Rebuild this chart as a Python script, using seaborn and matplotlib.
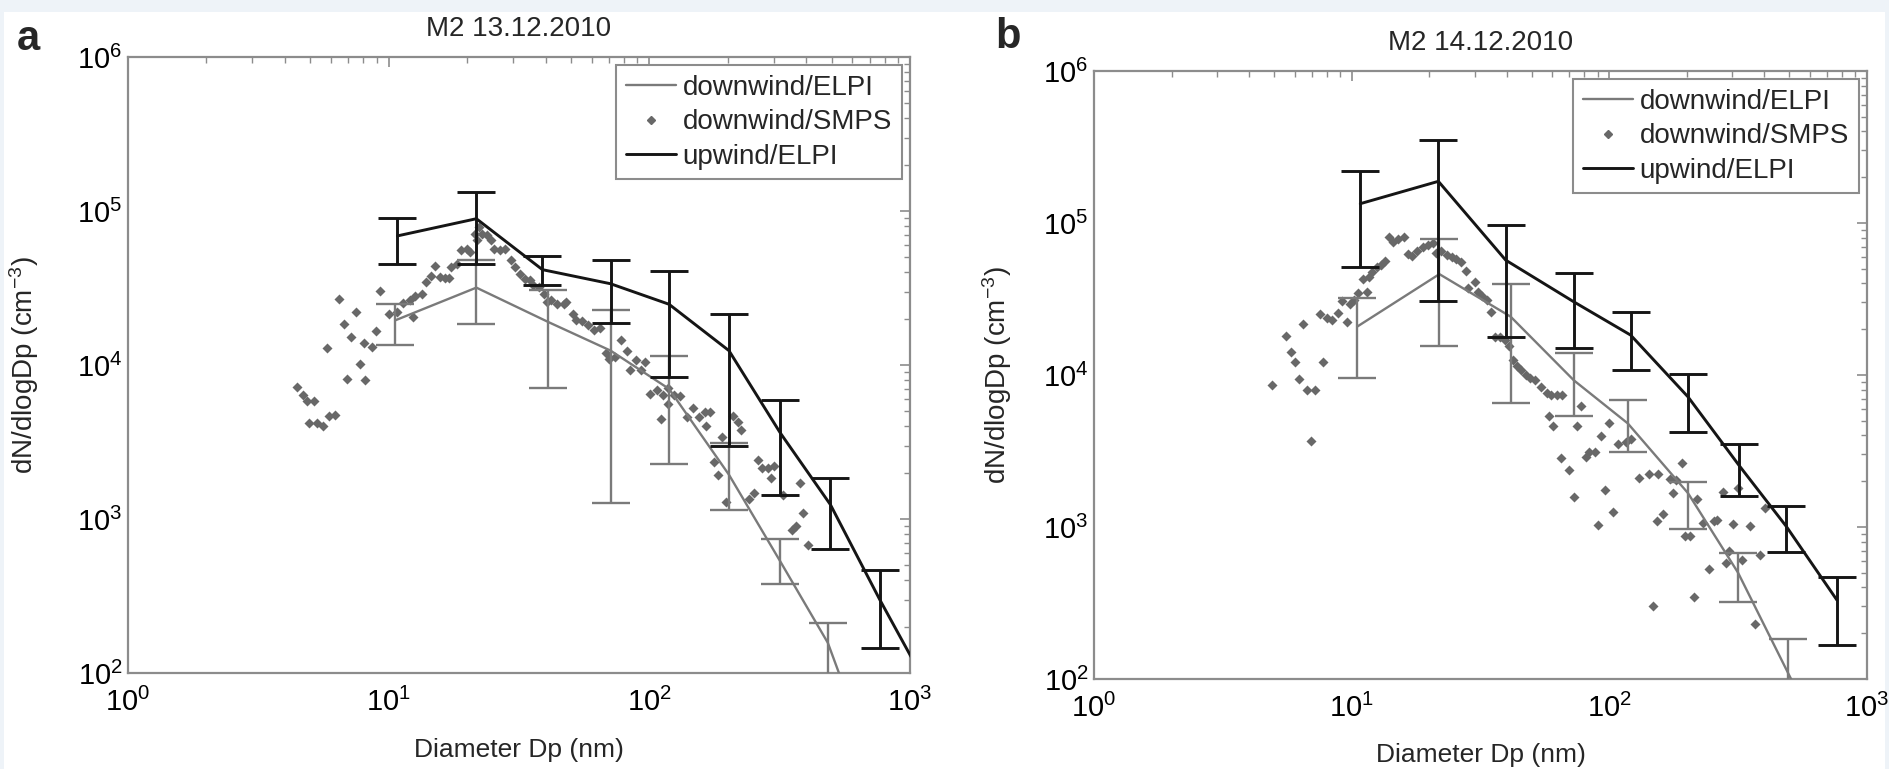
import numpy as np
import pandas as pd
import matplotlib
matplotlib.use("Agg")
import matplotlib.pyplot as plt
import seaborn as sns
from matplotlib.lines import Line2D
from matplotlib.patches import Rectangle
from matplotlib.ticker import LogLocator, NullFormatter

# ---------------- data ----------------
titles = ["M2 13.12.2010", "M2 14.12.2010"]
panel_labels = ["a", "b"]
legend_labels = ["downwind/ELPI", "downwind/SMPS", "upwind/ELPI"]
x_ticks = [1, 10, 100, 1000]
x_tick_labels = ["$10^{0}$", "$10^{1}$", "$10^{2}$", "$10^{3}$"]
y_ticks = [1e2, 1e3, 1e4, 1e5, 1e6]
y_tick_labels = ["$10^{2}$", "$10^{3}$", "$10^{4}$", "$10^{5}$", "$10^{6}$"]

# Panel a
up_a_dp = [10.8, 21.7, 38.9, 71, 119, 202, 318, 495, 766, 1220]
up_a_n = [68900, 89100, 41600, 33700, 24800, 12400, 3620, 1240, 299, 71]
up_a_hi = [90600, 132800, 50800, 47800, 40800, 21300, 5900, 1850, 464, None]
up_a_lo = [45500, 45500, 32900, 18700, 8360, 2960, 1440, 638, 145, None]

dn_a_dp = [10.6, 21.7, 41, 71, 119, 202, 318, 484, 766]
dn_a_n = [19500, 31800, 19000, 12400, 7000, 1940, 530, 157, 19]
dn_a_hi = [24800, 48000, 30500, 22600, 11400, 3100, 742, 211, None]
dn_a_lo = [13400, 18500, 7130, 1270, 2280, 1150, 380, 50, None]

smps_a_dp = [5.82, 6.47, 6.72, 7.20, 7.47, 7.76, 8.09, 6.94, 8.01, 8.63, 8.91, 9.25,
             10.0, 10.8, 11.4, 12.1, 12.4, 12.6, 13.4, 13.9, 14.5, 15.1, 15.7, 16.4,
             17.1, 17.3, 18.3, 19.0, 20.0, 20.5, 21.4, 21.9, 22.2, 22.8, 23.8, 24.7,
             25.4, 26.8, 28.0, 29.5, 30.6, 31.8, 33.2, 35.0, 35.9, 37.9, 39.5, 40.6,
             42.1, 44.4, 46.9, 48.1, 50.8, 52.1, 55.0, 58.0, 61.1, 64.5, 68.0, 69.8,
             73.6, 77.7, 82.0, 84.2, 88.8, 92.6, 96.1, 101, 107, 113,
             4.46, 4.68, 4.88, 5.15, 4.96, 5.29, 5.61, 5.88, 6.21,
             111, 118, 118, 124, 131, 140, 147, 155, 164, 171, 165, 190, 177, 184,
             197, 210, 219, 225, 241, 251, 261, 271, 286, 302, 294, 327, 354, 364,
             377, 390, 405]
smps_a_n = [12900, 27000, 18400, 15200, 22100, 10200, 7940, 8150, 13800, 13100, 16600, 30300,
            21300, 22100, 25300, 26300, 20500, 27900, 28800, 34600, 37700, 43800, 37300, 36900,
            36700, 43300, 45500, 55600, 56900, 54200, 71300, 64500, 78700, 71300, 69500, 64500,
            56900, 55600, 56900, 47800, 43300, 39200, 36400, 35500, 32900, 32100, 29000, 25700,
            26300, 24800, 24800, 25700, 21500, 19500, 19300, 18100, 16800, 17500, 11900, 11000,
            11200, 14500, 12400, 9330, 10700, 9230, 10400, 6510, 6840, 6350,
            7190, 6410, 5810, 5810, 4200, 4200, 4000, 4640, 4760,
            4460, 7090, 5610, 6410, 6260, 4590, 5260, 4590, 4950, 4950, 4000, 3410, 2330, 1940,
            1280, 4640, 4240, 3800, 1340, 1480, 2430, 2140, 2140, 2200, 1850, 1440, 853, 896,
            1710, 1100, 675]

# Panel b
up_b_dp = [10.8, 21.7, 39.6, 72.8, 121, 202, 320, 486, 764]
up_b_n = [134000, 188000, 57000, 30300, 18300, 7180, 2520, 1010, 331]
up_b_hi = [220000, 350000, 96800, 47100, 25800, 10200, 3500, 1380, 470]
up_b_lo = [51500, 30800, 17700, 15000, 10800, 4240, 1590, 686, 167]

dn_b_dp = [10.5, 21.9, 41.4, 72.8, 118, 202, 316, 492, 764]
dn_b_n = [20800, 46100, 24200, 9230, 4800, 1670, 500, 111, 25]
dn_b_hi = [31900, 78300, 39600, 14000, 6890, 1990, 676, 183, None]
dn_b_lo = [9600, 15500, 6560, 5360, 3130, 975, 321, 50, None]

smps_b_dp = [4.89, 5.56, 5.81, 6.00, 6.23, 6.47, 6.71, 7.20, 7.52, 7.73, 8.02, 8.37,
             8.84, 9.18, 9.58, 9.84, 10.2, 10.6, 11.1, 11.5, 11.7, 12.0, 12.5, 13.0,
             13.5, 14.0, 14.5, 15.1, 15.9, 16.6, 17.2, 18.0, 19.0, 19.7, 20.6, 21.3,
             22.3, 23.5, 24.5, 25.5, 26.5, 27.7, 28.4, 30.0, 30.8, 32.0, 33.4, 34.8,
             36.1, 37.8, 39.2, 40.7, 42.1, 43.7, 45.4, 47.3, 49.4, 51.3, 54.2, 57.1,
             59.3, 62.6, 65.3,
             6.97, 58.1, 60.3, 74.8, 77.7, 64.7, 69.7, 72.8, 81.1, 83.4, 87.9, 92.7,
             96.3, 99.5, 103, 90.3, 108, 116, 121, 130, 143, 155, 161, 153, 172, 177,
             182, 192, 197, 205, 213, 219, 231, 244, 254, 262, 276, 283, 292, 303, 315,
             328, 352, 366, 386, 403, 148]
smps_b_n = [8590, 18000, 14200, 12200, 9370, 21600, 7960, 7960, 25200, 12200, 23600, 23000,
            25400, 30800, 22400, 29300, 31100, 34400, 42500, 35300, 44300, 47800, 51500, 52800,
            56100, 81100, 75200, 78000, 80300, 62400, 60500, 65600, 69000, 71400, 74100, 63100,
            65600, 61500, 60000, 58200, 55000, 48500, 37100, 41000, 35300, 33000, 31100, 26100,
            17900, 17700, 17000, 15400, 12600, 11400, 10800, 10000, 9510, 9270, 8380, 7580,
            7390, 7390, 7390,
            3700, 5360, 4610, 4610, 6240, 2830, 2380, 1570, 2900, 3130, 3130, 3970,
            1740, 4850, 1250, 1030, 3520, 3640, 3790, 2110, 2220, 2220, 1220, 1090, 2060, 1670,
            2040, 2630, 878, 878, 348, 1530, 1060, 531, 1090, 1120, 1710, 581, 693, 1050, 1800,
            611, 1020, 229, 659, 1330, 302]

# ---------------- style ----------------
sns.set_theme(style="white")
TICK_SIZE = 21
plt.rcParams["font.family"] = ["Liberation Sans", "DejaVu Sans"]
plt.rcParams["mathtext.fontset"] = "custom"
plt.rcParams["mathtext.rm"] = "Liberation Sans"
plt.rcParams["mathtext.it"] = "Liberation Sans"
plt.rcParams["mathtext.default"] = "regular"

GRAY = "#7a7a7a"
BLACK = "#151515"
SMPS_C = "#686868"
AX_C = "#8c8c8c"

fig = plt.figure(figsize=(18.9, 7.69), dpi=100)
fig.patch.set_facecolor("#eef3f8")
fig.patches.append(Rectangle((4 / 1890, 0), 1881 / 1890, 757 / 769, transform=fig.transFigure,
                             facecolor="white", edgecolor="none", zorder=-10))

W, H = 1890, 769
ax_boxes = [(128, 910, 57, 673), (1094, 1867, 71, 679)]
panels = [
    (up_a_dp, up_a_n, up_a_hi, up_a_lo, dn_a_dp, dn_a_n, dn_a_hi, dn_a_lo, smps_a_dp, smps_a_n),
    (up_b_dp, up_b_n, up_b_hi, up_b_lo, dn_b_dp, dn_b_n, dn_b_hi, dn_b_lo, smps_b_dp, smps_b_n),
]
ylabel_x = [-0.111, -0.1035]
label_px = [(17, 50), (995, 48)]


def draw_err(ax, dp, n, hi, lo, color, lw):
    dp = np.asarray(dp, float)
    n = np.asarray(n, float)
    hi = np.array([np.nan if v is None else v for v in hi], float)
    lo = np.array([np.nan if v is None else v for v in lo], float)
    m = ~np.isnan(hi)
    ax.errorbar(dp[m], n[m], yerr=[n[m] - lo[m], hi[m] - n[m]], fmt="none",
                ecolor=color, elinewidth=lw, capsize=14, capthick=lw, zorder=3)


for i, (l, r, t, b) in enumerate(ax_boxes):
    ax = fig.add_axes([l / W, 1 - b / H, (r - l) / W, (b - t) / H])
    (udp, un, uhi, ulo, ddp, dn, dhi, dlo, sdp, sn) = panels[i]

    smps = pd.DataFrame({"dp": sdp, "n": sn})
    sns.scatterplot(data=smps, x="dp", y="n", ax=ax, marker="D", s=26, color=SMPS_C,
                    edgecolor=SMPS_C, linewidth=0, zorder=2, legend=False)
    down = pd.DataFrame({"dp": ddp, "n": dn})
    sns.lineplot(data=down, x="dp", y="n", ax=ax, color=GRAY, lw=1.7, sort=False,
                 estimator=None, zorder=3, legend=False)
    draw_err(ax, ddp, dn, dhi, dlo, GRAY, 1.7)
    up = pd.DataFrame({"dp": udp, "n": un})
    sns.lineplot(data=up, x="dp", y="n", ax=ax, color=BLACK, lw=2.1, sort=False,
                 estimator=None, zorder=4, legend=False)
    draw_err(ax, udp, un, uhi, ulo, BLACK, 2.1)

    ax.set_xscale("log")
    ax.set_yscale("log")
    ax.set_xticks(x_ticks)
    ax.set_xticklabels(x_tick_labels, fontsize=TICK_SIZE)
    ax.set_yticks(y_ticks)
    ax.set_yticklabels(y_tick_labels, fontsize=TICK_SIZE)
    ax.xaxis.set_minor_locator(LogLocator(base=10, subs=np.arange(2, 10), numticks=20))
    ax.yaxis.set_minor_locator(LogLocator(base=10, subs=np.arange(2, 10), numticks=20))
    ax.xaxis.set_minor_formatter(NullFormatter())
    ax.yaxis.set_minor_formatter(NullFormatter())
    ax.set_xlim(1, 1000)
    ax.set_ylim(100, 1e6)
    ax.tick_params(which="both", direction="in", top=True, right=True, color=AX_C,
                   labelcolor="black")
    ax.tick_params(which="major", length=7, width=1.2)
    ax.tick_params(axis="x", which="major", pad=11)
    ax.tick_params(axis="y", which="major", pad=4)
    ax.tick_params(which="minor", length=4, width=1.0)
    for s in ax.spines.values():
        s.set_color(AX_C)
        s.set_linewidth(1.6)
        s.set_visible(True)
    ax.set_facecolor("white")

    ax.set_xlabel("Diameter Dp (nm)", fontsize=19)
    ax.set_ylabel("dN/dlogDp (cm$^{-3}$)", fontsize=20)
    ax.xaxis.set_label_coords(0.5, -0.106)
    ax.xaxis.label.set_va("top")
    ax.yaxis.set_label_coords(ylabel_x[i], 0.5)
    ax.set_title(titles[i], fontsize=20, pad=15)

    handles = [
        Line2D([], [], color=GRAY, lw=1.7),
        Line2D([], [], color=SMPS_C, lw=0, marker="D", markersize=4),
        Line2D([], [], color=BLACK, lw=2.1),
    ]
    leg = ax.legend(handles, legend_labels, loc="upper right", bbox_to_anchor=(1, 1),
                    fontsize=20, frameon=True, fancybox=False, framealpha=1,
                    edgecolor=AX_C, borderaxespad=0.3, borderpad=0.35, labelspacing=0.3,
                    handlelength=1.8, handletextpad=0.25)
    leg.get_frame().set_linewidth(1.5)

    fig.text(label_px[i][0] / W, 1 - label_px[i][1] / H, panel_labels[i], fontsize=30,
             fontweight="bold", ha="left", va="baseline")

fig.savefig("out.png", dpi=100, facecolor=fig.get_facecolor())
